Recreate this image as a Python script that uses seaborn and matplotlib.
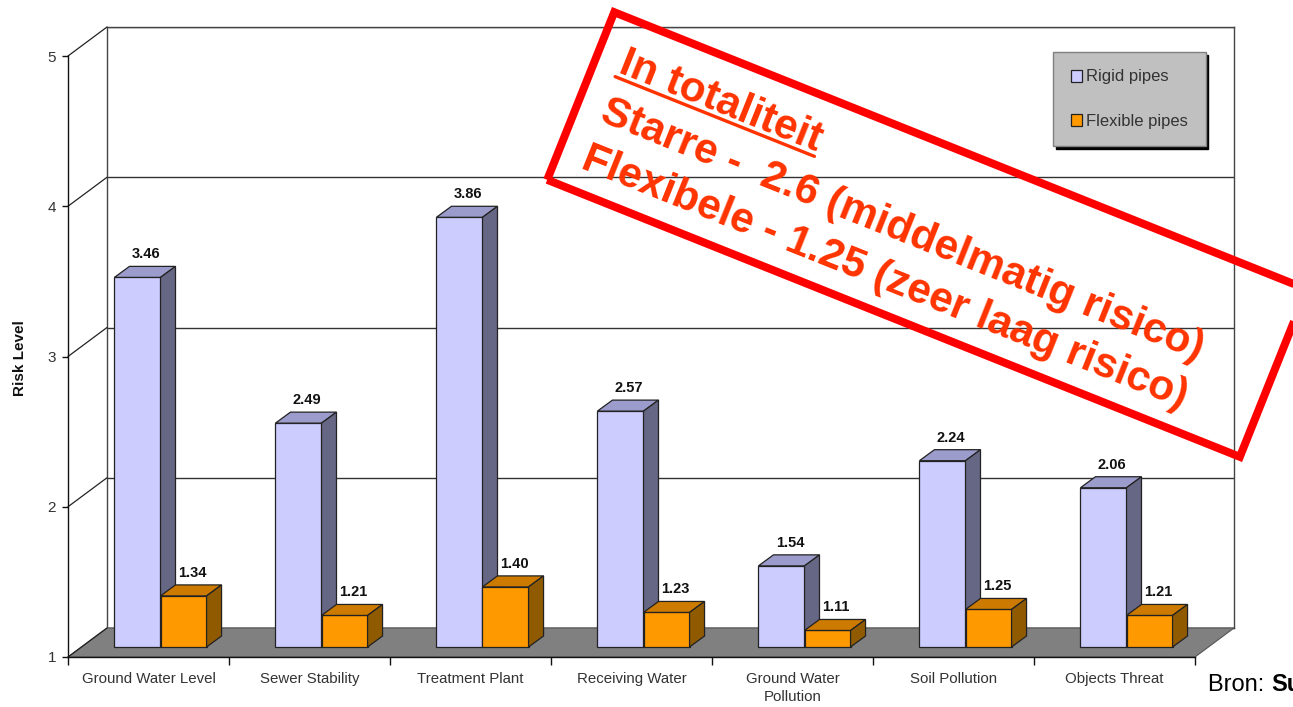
import numpy as np
import pandas as pd
import matplotlib
matplotlib.use("Agg")
import matplotlib.pyplot as plt
import seaborn as sns
from matplotlib.transforms import ScaledTranslation, IdentityTransform
from matplotlib.patches import Polygon, Rectangle, Patch
from matplotlib.lines import Line2D

# ---------------- data ----------------
categories = ["Ground Water Level", "Sewer Stability", "Treatment Plant",
              "Receiving Water", "Ground Water\nPollution", "Soil Pollution",
              "Objects Threat"]
rigid = [3.46, 2.49, 3.86, 2.57, 1.54, 2.24, 2.06]
flexible = [1.34, 1.21, 1.40, 1.23, 1.11, 1.25, 1.21]
series_names = ["Rigid pipes", "Flexible pipes"]
yticks = [1, 2, 3, 4, 5]
note_lines = ["In totaliteit", "Starre -  2.6 (middelmatig risico)",
              "Flexibele - 1.25 (zeer laag risico)"]

df = pd.DataFrame({
    "category": categories * 2,
    "value": rigid + flexible,
    "series": [series_names[0]] * len(categories) + [series_names[1]] * len(categories),
})

# ---------------- style ----------------
sns.set_theme(style="white")
plt.rcParams["font.family"] = ["Liberation Sans", "DejaVu Sans"]

W, H, DPI = 1293, 707, 100
fig = plt.figure(figsize=(W / DPI, H / DPI), dpi=DPI)
fig.patch.set_facecolor("white")

front_col = {"Rigid pipes": "#CCCCFF", "Flexible pipes": "#FF9900"}
top_col = {"Rigid pipes": "#9C9CCC", "Flexible pipes": "#CC7A00"}
side_col = {"Rigid pipes": "#666685", "Flexible pipes": "#8F5A00"}

# geometry in pixels
fx0, fx1, fy0, fy1 = 68, 1195, 657, 56      # front plane
wall_dx, wall_dy = 39, 29                   # back-wall depth offset
bar_dx, bar_dy = 12, 10                     # bar position depth
dep_dx, dep_dy = 15, 11                     # bar thickness

fpos = [fx0 / W, 1 - fy0 / H, (fx1 - fx0) / W, (fy0 - fy1) / H]
bpos = [(fx0 + wall_dx) / W, 1 - (fy0 - wall_dy) / H, (fx1 - fx0) / W, (fy0 - fy1) / H]

back = fig.add_axes(bpos)
back.set_xlim(-0.5, 6.5)
back.set_ylim(1, 5)
back.set_xticks([])
back.set_yticks(yticks)
back.tick_params(left=False, labelleft=False)
back.grid(axis="y", color="#333333", linewidth=1.0)
for s in back.spines.values():
    s.set_color("#444444")
    s.set_linewidth(1.0)
back.set_facecolor("white")

ax = fig.add_axes(fpos)
ax.patch.set_visible(False)

sns.barplot(data=df, x="category", y="value", hue="series", order=categories,
            hue_order=series_names, palette=front_col, width=0.572, saturation=1,
            edgecolor="#222222", linewidth=0.9, ax=ax, legend=False)

ax.set_xlim(-0.5, 6.5)
ax.set_ylim(1, 5)
ax.set_xlabel("")
ax.set_ylabel("")
for side in ["top", "right"]:
    ax.spines[side].set_visible(False)
for side in ["left", "bottom"]:
    ax.spines[side].set_color("#111111")
    ax.spines[side].set_linewidth(1.0)

ax.set_yticks(yticks)
ax.set_yticklabels([str(v) for v in yticks], fontsize=11, color="#333333")
ax.tick_params(axis="y", direction="out", length=4.5, width=1, color="#111111", pad=4, left=True)
ax.set_xticks(range(len(categories)))
ax.set_xticklabels(categories, fontsize=10.8, color="#333333", linespacing=1.35)
ax.tick_params(axis="x", which="major", length=0, pad=11)
ax.set_xticks(np.arange(-0.5, len(categories) + 0.5, 1), minor=True)
ax.tick_params(axis="x", which="minor", direction="out", length=6, width=1,
               color="#111111", bottom=True)

# floor polygon and side-wall diagonals
tf = ax.transData
tb = back.transData
floor = [tf.transform((-0.5, 1)), tf.transform((6.5, 1)),
         tb.transform((6.5, 1)), tb.transform((-0.5, 1))]
ax.add_artist(Polygon(floor, closed=True, transform=IdentityTransform(),
                      facecolor="#808080", edgecolor="#555555", linewidth=0.8,
                      zorder=0.5, clip_on=False))
for yv in yticks:
    p0 = tf.transform((-0.5, yv))
    p1 = tb.transform((-0.5, yv))
    ax.add_artist(Line2D([p0[0], p1[0]], [p0[1], p1[1]], transform=IdentityTransform(),
                         color="#222222", linewidth=0.9, zorder=0.6, clip_on=False))

# bars: move to floor level & depth, add 3D faces
shift = ScaledTranslation(bar_dx / DPI, bar_dy / DPI, fig.dpi_scale_trans)
tr = ax.transData + shift
for k, (name, cont) in enumerate(zip(series_names, ax.containers)):
    vals = rigid if k == 0 else flexible
    for p, v in zip(cont.patches, vals):
        p.set_y(1)
        p.set_height(v - 1)
        p.set_transform(tr)
        p.set_clip_on(False)
        p.set_zorder(2 + k)
        x0, x1 = p.get_x(), p.get_x() + p.get_width()
        (dx0, dy0) = tr.transform((x0, 1))
        (dx1, dy1) = tr.transform((x1, v))
        top = [(dx0, dy1), (dx1, dy1), (dx1 + dep_dx, dy1 + dep_dy), (dx0 + dep_dx, dy1 + dep_dy)]
        sidep = [(dx1, dy0), (dx1, dy1), (dx1 + dep_dx, dy1 + dep_dy), (dx1 + dep_dx, dy0 + dep_dy)]
        for poly, col in [(top, top_col[name]), (sidep, side_col[name])]:
            ax.add_artist(Polygon(poly, closed=True, transform=IdentityTransform(),
                                  facecolor=col, edgecolor="#222222", linewidth=0.9,
                                  zorder=2.1 + k, clip_on=False))
        ax.annotate(f"{v:.2f}", xy=((x0 + x1) / 2, v), xycoords=tr,
                    xytext=(dep_dx / 2 + 1, dep_dy + 5), textcoords="offset pixels",
                    ha="center", va="bottom", fontsize=10.5, fontweight="bold",
                    color="#111111", zorder=5)

# legend
handles = [Patch(facecolor=front_col[n], edgecolor="#222222", linewidth=0.9) for n in series_names]
leg = ax.legend(handles, series_names, loc="upper left",
                bbox_to_anchor=(1053 / W, 1 - 52 / H), bbox_transform=fig.transFigure,
                frameon=True, fancybox=False, shadow={"color": "black", "alpha": 1},
                facecolor="#C0C0C0", edgecolor="#808080", framealpha=1,
                handlelength=0.7, handleheight=0.7, handletextpad=0.25,
                labelspacing=1.75, borderpad=1.05, borderaxespad=0, fontsize=12)
for t in leg.get_texts():
    t.set_color("#333333")
leg.get_frame().set_linewidth(1.0)
leg.set_zorder(6)

# axis title
fig.text(20 / W, 1 - 358 / H, "Risk Level", rotation=90, ha="center", va="center",
         fontsize=11, fontweight="bold", color="#111111")

# source
t1 = fig.text(1208 / W, 1 - 691 / H, "Bron: ", fontsize=17, color="black", ha="left", va="baseline")
fig.canvas.draw()
bb = t1.get_window_extent()
fig.text(bb.x1 / W, 1 - 691 / H, "Su", fontsize=17, fontweight="bold", color="black",
         ha="left", va="baseline")

# red annotation box
ang = -21.8
fig.add_artist(Rectangle((547.2, 527.2), 746, 180.5, angle=ang, transform=IdentityTransform(),
                         fill=False, edgecolor="#FF0000", linewidth=8 * 72 / DPI, zorder=10,
                         clip_on=False))
cs, sn = np.cos(np.radians(ang)), np.sin(np.radians(ang))
starts = [(617, 707 - 72), (598, 707 - 121), (579, 707 - 168)]
FS = 30.5
for i, (line, (sx, sy)) in enumerate(zip(note_lines, starts)):
    t = fig.text(sx, sy, line, transform=IdentityTransform(), rotation=ang,
                 rotation_mode="anchor", ha="left", va="baseline", fontsize=FS,
                 fontweight="bold", color="#FF3300", zorder=11)
    if i == 0:
        tmp = fig.text(0, 0, line, fontsize=FS, fontweight="bold")
        fig.canvas.draw()
        wpx = tmp.get_window_extent().width
        tmp.remove()
        ux, uy = sx + 5 * sn, sy - 5 * cs
        fig.add_artist(Line2D([ux, ux + wpx * cs], [uy, uy + wpx * sn],
                              transform=IdentityTransform(), color="#FF3300",
                              linewidth=2.4, zorder=11))

fig.savefig("out.png", dpi=DPI)
